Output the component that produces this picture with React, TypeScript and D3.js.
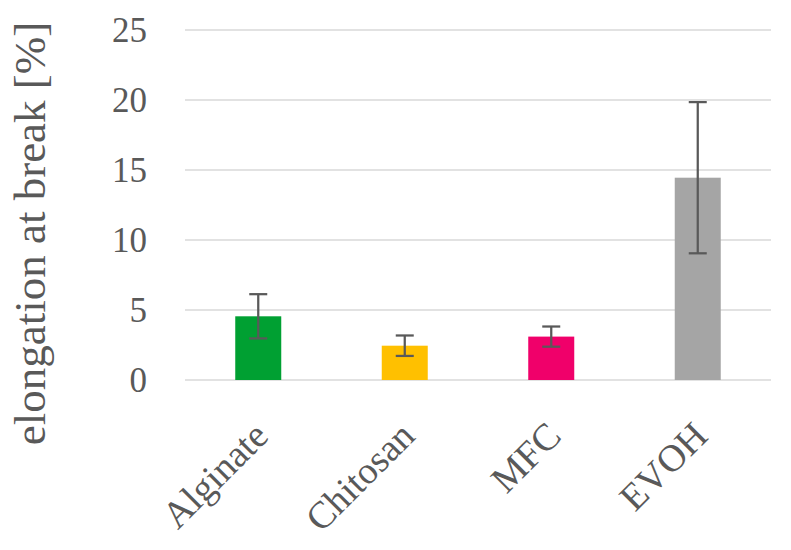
import React from "react";
import * as d3 from "d3";

const categories = ["Alginate", "Chitosan", "MFC", "EVOH"];
const means = [4.55, 2.45, 3.1, 14.45];
const errors = [1.58, 0.73, 0.72, 5.4];
const barColors = ["#00A032", "#FFC000", "#F0006A", "#A5A5A5"];
const yTicks = [0, 5, 10, 15, 20, 25];

const width = 791;
const height = 550;
const margin = { top: 30, right: 20, bottom: 170, left: 185 };
const font = "'Liberation Serif', 'Times New Roman', serif";
const textColor = "#595959";

export default function App() {
  const x = d3
    .scaleBand()
    .domain(categories)
    .range([margin.left, width - margin.right])
    .paddingInner(0.686)
    .paddingOuter(0.343);

  const y = d3
    .scaleLinear()
    .domain([0, 25])
    .range([height - margin.bottom, margin.top]);

  const capHalf = 9;

  return (
    <svg
      width={width}
      height={height}
      style={{ position: "absolute", left: 0, top: 0, background: "#fff" }}
    >
      {/* gridlines */}
      {yTicks.map((t) => (
        <line
          key={"g" + t}
          x1={margin.left}
          x2={width - margin.right}
          y1={y(t)}
          y2={y(t)}
          stroke="#d9d9d9"
          strokeWidth={1.5}
        />
      ))}

      {/* y tick labels */}
      {yTicks.map((t) => (
        <text
          key={"t" + t}
          x={147}
          y={y(t)}
          dy="0.34em"
          textAnchor="end"
          fontFamily={font}
          fontSize={35}
          fill={textColor}
        >
          {t}
        </text>
      ))}

      {/* y title */}
      <text
        transform={`translate(45, ${(447 + 20) / 2}) rotate(-90)`}
        textAnchor="middle"
        fontFamily={font}
        fontSize={45}
        fill={textColor}
      >
        elongation at break [%]
      </text>

      {/* bars */}
      {categories.map((c, i) => (
        <rect
          key={"b" + c}
          x={x(c)}
          y={y(means[i])}
          width={x.bandwidth()}
          height={y(0) - y(means[i])}
          fill={barColors[i]}
        />
      ))}

      {/* error bars */}
      {categories.map((c, i) => {
        const cx = (x(c) as number) + x.bandwidth() / 2;
        const top = y(means[i] + errors[i]);
        const bot = y(means[i] - errors[i]);
        return (
          <g key={"e" + c} stroke="#595959" strokeWidth={2.25}>
            <line x1={cx} x2={cx} y1={top} y2={bot} />
            <line x1={cx - capHalf} x2={cx + capHalf} y1={top} y2={top} />
            <line x1={cx - capHalf} x2={cx + capHalf} y1={bot} y2={bot} />
          </g>
        );
      })}

      {/* category labels */}
      {categories.map((c) => {
        const cx = (x(c) as number) + x.bandwidth() / 2;
        return (
          <text
            key={"c" + c}
            transform={`translate(${cx + 12}, 438) rotate(-45)`}
            textAnchor="end"
            fontFamily={font}
            fontSize={38}
            fill={textColor}
          >
            {c}
          </text>
        );
      })}
    </svg>
  );
}
